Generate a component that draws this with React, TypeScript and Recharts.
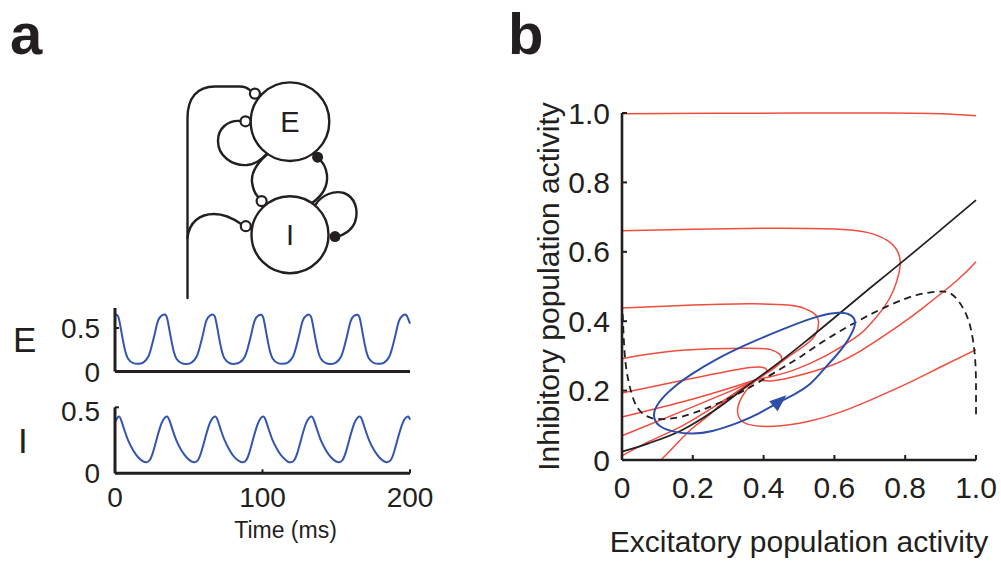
import React from 'react';
import { LineChart, Line, XAxis, YAxis, ReferenceDot, Label } from 'recharts';

const FONT = '"Liberation Sans", Arial, Helvetica, sans-serif';
const INK = '#231f20';
const RED = '#f04c3e';
const BLUE = '#2d4fa9';
const TRACE_BLUE = '#3355b0';

// ---------- Panel a: time courses ----------
const eTime = [
  0, 1.0, 2.5, 4.4, 6.6, 8.9, 12.3, 15.7, 19.1, 22.5, 24.7, 27.0, 29.2, 31.8,
  33.8, 35.3, 37.2, 39.4, 41.7, 45.1, 48.5, 51.9, 55.3, 57.5, 59.8, 62.0, 64.6,
  66.5, 68.0, 69.9, 72.1, 74.4, 77.8, 81.2, 84.6, 88.0, 90.2, 92.5, 94.7, 97.3,
  99.1, 100.6, 102.5, 104.7, 107.0, 110.4, 113.8, 117.2, 120.6, 122.8, 125.1, 127.3, 129.9,
  131.7, 133.2, 135.1, 137.3, 139.6, 143.0, 146.4, 149.8, 153.2, 155.4, 157.7, 159.9, 162.5,
  164.4, 165.9, 167.8, 170.0, 172.3, 175.7, 179.1, 182.5, 185.9, 188.1, 190.4, 192.6, 195.2,
  197.1, 198.6, 200,
];
const eValue = [
  0.64, 0.653, 0.615, 0.45, 0.26, 0.148, 0.097, 0.089, 0.104, 0.17, 0.283, 0.438, 0.585, 0.645,
  0.655, 0.615, 0.45, 0.262, 0.148, 0.097, 0.088, 0.104, 0.17, 0.283, 0.439, 0.587, 0.646,
  0.654, 0.616, 0.451, 0.26, 0.147, 0.096, 0.089, 0.105, 0.171, 0.282, 0.438, 0.585, 0.645,
  0.653, 0.615, 0.45, 0.26, 0.148, 0.097, 0.089, 0.104, 0.17, 0.283, 0.438, 0.586, 0.646,
  0.654, 0.615, 0.45, 0.261, 0.148, 0.097, 0.088, 0.104, 0.171, 0.283, 0.438, 0.585, 0.645,
  0.653, 0.615, 0.451, 0.26, 0.147, 0.097, 0.089, 0.104, 0.17, 0.282, 0.439, 0.586, 0.646,
  0.654, 0.615, 0.55,
];
const iTime = [
  0, 2.6, 4.4, 6.6, 8.9, 12.3, 15.7, 19.1, 21.3, 23.6, 25.9, 28.1, 30.4, 32.7,
  35.3, 37.1, 39.3, 41.6, 45.0, 48.4, 51.8, 54.0, 56.3, 58.6, 60.8, 63.1, 65.4,
  68.0, 69.8, 72.0, 74.3, 77.7, 81.1, 84.5, 86.7, 89.0, 91.3, 93.5, 95.8, 98.1,
  100.6, 102.4, 104.6, 106.9, 110.3, 113.7, 117.1, 119.3, 121.6, 123.9, 126.1, 128.4, 130.7,
  133.3, 135.1, 137.3, 139.6, 143.0, 146.4, 149.8, 152.0, 154.3, 156.6, 158.8, 161.1, 163.4,
  166.0, 167.8, 170.0, 172.3, 175.7, 179.1, 182.5, 184.7, 187.0, 189.3, 191.5, 193.8, 196.1,
  198.7, 200,
];
const iValue = [
  0.39, 0.43, 0.395, 0.32, 0.25, 0.175, 0.122, 0.09, 0.084, 0.101, 0.164, 0.253, 0.342, 0.405,
  0.431, 0.395, 0.321, 0.25, 0.174, 0.122, 0.09, 0.084, 0.101, 0.165, 0.253, 0.342, 0.405,
  0.43, 0.396, 0.32, 0.251, 0.175, 0.121, 0.09, 0.084, 0.1, 0.164, 0.254, 0.342, 0.406,
  0.43, 0.395, 0.32, 0.25, 0.175, 0.122, 0.089, 0.084, 0.101, 0.164, 0.253, 0.343, 0.405,
  0.431, 0.395, 0.321, 0.25, 0.175, 0.122, 0.09, 0.084, 0.101, 0.164, 0.253, 0.342, 0.405,
  0.43, 0.395, 0.32, 0.25, 0.174, 0.122, 0.09, 0.085, 0.101, 0.165, 0.254, 0.342, 0.406,
  0.43, 0.405,
];
const activityTicks = [0, 0.5];
const timeTicks = [0, 100, 200];

// ---------- Panel b: phase plane ----------
const phaseTicks = [0, 0.2, 0.4, 0.6, 0.8, 1.0];

const trajTop = [[0, 0.998], [0.25, 0.999], [0.5, 1.0], [0.75, 1.0], [0.9, 0.998], [1.0, 0.992]];
const trajHigh = [
  [0, 0.661], [0.2, 0.665], [0.409, 0.668], [0.598, 0.666], [0.692, 0.656], [0.749, 0.633],
  [0.777, 0.604], [0.786, 0.572], [0.782, 0.537], [0.767, 0.489], [0.74, 0.44], [0.7, 0.39],
  [0.664, 0.356], [0.579, 0.302], [0.485, 0.259], [0.419, 0.24], [0.38, 0.232],
];
const trajA = [
  [0, 0.438], [0.169, 0.445], [0.357, 0.45], [0.475, 0.446], [0.515, 0.437], [0.543, 0.422],
  [0.555, 0.398], [0.547, 0.362], [0.52, 0.333], [0.485, 0.308], [0.428, 0.266], [0.38, 0.232],
];
const trajB = [
  [0, 0.292], [0.169, 0.316], [0.357, 0.322], [0.42, 0.318], [0.445, 0.305], [0.45, 0.287],
  [0.428, 0.263], [0.38, 0.232],
];
const trajC = [[0, 0.193], [0.169, 0.229], [0.31, 0.258], [0.386, 0.268], [0.409, 0.258], [0.398, 0.243], [0.38, 0.232]];
const trajD = [[0, 0.124], [0.169, 0.167], [0.31, 0.209], [0.38, 0.232]];
const trajE = [[0, 0.07], [0.169, 0.14], [0.31, 0.2], [0.38, 0.232]];
const trajF = [[0, 0.012], [0.08, 0.055], [0.173, 0.1], [0.27, 0.16], [0.38, 0.232]];
const trajG = [[0.11, 0], [0.15, 0.042], [0.197, 0.09], [0.244, 0.128], [0.31, 0.186], [0.38, 0.232]];
const trajH = [
  [1.0, 0.318], [0.9, 0.268], [0.805, 0.22], [0.711, 0.177], [0.617, 0.138], [0.522, 0.11],
  [0.428, 0.097], [0.36, 0.102], [0.332, 0.12], [0.327, 0.15], [0.342, 0.187], [0.362, 0.213], [0.38, 0.232],
];
const trajI = [
  [1.0, 0.571], [0.947, 0.518], [0.852, 0.44], [0.786, 0.39], [0.673, 0.314], [0.579, 0.268],
  [0.485, 0.24], [0.419, 0.228], [0.38, 0.232],
];
const redTrajectories = [trajTop, trajHigh, trajA, trajB, trajC, trajD, trajE, trajF, trajG, trajH, trajI];

const solidNullcline = [
  [0, 0.024], [0.075, 0.048], [0.169, 0.086], [0.263, 0.144], [0.357, 0.216], [0.452, 0.288],
  [0.518, 0.341], [0.6, 0.41], [0.7, 0.495], [0.8, 0.578], [0.9, 0.663], [1.0, 0.749],
];
const dashedNullcline = [
  [0.002, 0.42], [0.005, 0.35], [0.01, 0.28], [0.02, 0.22], [0.035, 0.168], [0.056, 0.136],
  [0.084, 0.121], [0.122, 0.118], [0.169, 0.125], [0.225, 0.144], [0.282, 0.168], [0.339, 0.197],
  [0.386, 0.224], [0.452, 0.265], [0.508, 0.3], [0.569, 0.342], [0.664, 0.399], [0.758, 0.447],
  [0.834, 0.476], [0.89, 0.485], [0.928, 0.48], [0.961, 0.442], [0.984, 0.384], [0.997, 0.298],
  [1.0, 0.211], [1.0, 0.12],
];
const limitCycle = [
  [0.445, 0.168], [0.49, 0.19], [0.53, 0.215], [0.56, 0.25], [0.6, 0.295], [0.63, 0.33],
  [0.652, 0.37], [0.662, 0.397], [0.65, 0.419], [0.617, 0.428], [0.55, 0.415], [0.456, 0.378],
  [0.357, 0.336], [0.263, 0.29], [0.2, 0.25], [0.145, 0.211], [0.1, 0.165], [0.085, 0.128],
  [0.102, 0.095], [0.15, 0.079], [0.2, 0.075], [0.25, 0.08], [0.332, 0.108], [0.39, 0.135],
];
const cycleArrow = { x: 0.445, y: 0.17, angle: -40 };

const toXY = (pts: number[][]) => pts.map(([x, y]) => ({ x, y }));
const eData = eTime.map((t, k) => ({ t, v: eValue[k] }));
const iData = iTime.map((t, k) => ({ t, v: iValue[k] }));
const fmt = (v: number) => (v === 0 ? '0' : v.toFixed(1));

const ArrowHead = (props: any) => {
  const { cx, cy } = props;
  if (cx == null || cy == null) return null;
  return (
    <polygon
      points="9,0 -8,-6.5 -8,6.5"
      transform={`translate(${cx},${cy}) rotate(${cycleArrow.angle})`}
      fill={BLUE}
    />
  );
};

const Diagram = () => (
  <svg width={1001} height={569} style={{ position: 'absolute', left: 0, top: 0, pointerEvents: 'none' }}>
    <text x={10} y={54} fontFamily={FONT} fontWeight="bold" fontSize={58} fill={INK}>a</text>
    <text x={508} y={54} fontFamily={FONT} fontWeight="bold" fontSize={58} fill={INK}>b</text>
    <g fill="none" stroke={INK} strokeWidth={2.4} strokeLinecap="round">
      <path d="M187.5,298 L187.5,118 C187.5,98 197,86.5 215,86.5 L240,86.5 C244,86.5 247,87.5 250,90.2" />
      <path d="M187.5,238 C189,222 200,214 214,214 C226,214 234,219 241,224" />
      <path d="M240.5,121 C228,120 218,128 218,141 C218,156 232,166 247,165 C256,164 262,159 266.5,154" />
      <path d="M267.5,154 C257,163 251,172 252,182 C253,190 255,194 258.4,197.3" />
      <path d="M312,203 C322,196 328,186 327,175 C326,167 322,161 318,158" />
      <path d="M316,204 C322,195 334,190 344,193 C355,197 359,210 355,222 C352,230 344,235 337,236.5" />
      <circle cx={290} cy={121.7} r={39.3} />
      <circle cx={290} cy={234.7} r={38.5} />
    </g>
    <g fill="#fff" stroke={INK} strokeWidth={2.2}>
      <circle cx={254.9} cy={93.6} r={5} />
      <circle cx={245.5} cy={121.3} r={5} />
      <circle cx={245.8} cy={226.2} r={5} />
      <circle cx={261.6} cy={201.1} r={5} />
    </g>
    <g fill={INK}>
      <circle cx={317.6} cy={157.2} r={5.5} />
      <circle cx={335} cy={236.6} r={5.5} />
    </g>
    <text x={290} y={132} textAnchor="middle" fontFamily={FONT} fontSize={29} fill={INK}>E</text>
    <text x={290} y={245} textAnchor="middle" fontFamily={FONT} fontSize={29} fill={INK}>I</text>
  </svg>
);

const tickA = { fontSize: 28, fill: INK, fontFamily: FONT };
const tickB = { fontSize: 30, fill: INK, fontFamily: FONT };

export default function App() {
  return (
    <div style={{ position: 'absolute', left: 0, top: 0, width: 1001, height: 569, background: '#fff', overflow: 'hidden', fontFamily: FONT }}>
      {/* E time course */}
      <div style={{ position: 'absolute', left: 0, top: 290 }}>
        <LineChart width={450} height={101} data={eData} margin={{ top: 18, right: 40, bottom: 0, left: 0 }}>
          <XAxis dataKey="t" type="number" domain={[0, 200]} ticks={timeTicks} tick={false} tickLine={false}
            height={19.4} axisLine={{ stroke: INK, strokeWidth: 3 }} />
          <YAxis type="number" domain={[0, 0.73]} ticks={activityTicks} width={115} tick={tickA}
            tickSize={-4} tickMargin={19} tickFormatter={(v: number) => (v === 0 ? '0' : String(v))}
            axisLine={{ stroke: INK, strokeWidth: 3 }} tickLine={{ stroke: INK, strokeWidth: 2 }}>
            <Label value="E" position="insideLeft" offset={13} fontSize={35} fill={INK} fontFamily={FONT} />
          </YAxis>
          <Line dataKey="v" type="natural" stroke={TRACE_BLUE} strokeWidth={2} dot={false} isAnimationActive={false} />
        </LineChart>
      </div>
      {/* I time course */}
      <div style={{ position: 'absolute', left: 0, top: 395 }}>
        <LineChart width={450} height={174} data={iData} margin={{ top: 12.3, right: 40, bottom: 0, left: 0 }}>
          <XAxis dataKey="t" type="number" domain={[0, 200]} ticks={timeTicks} tick={tickA}
            tickSize={-4} tickMargin={18} height={95.7}
            axisLine={{ stroke: INK, strokeWidth: 3 }} tickLine={{ stroke: INK, strokeWidth: 2 }}>
            <Label value="Time (ms)" position="insideBottom" offset={31} dx={23} fontSize={23} fill={INK} fontFamily={FONT} />
          </XAxis>
          <YAxis type="number" domain={[0, 0.5]} ticks={activityTicks} width={115} tick={tickA}
            tickSize={-4} tickMargin={19} tickFormatter={(v: number) => (v === 0 ? '0' : String(v))}
            axisLine={{ stroke: INK, strokeWidth: 3 }} tickLine={{ stroke: INK, strokeWidth: 2 }}>
            <Label value="I" position="insideLeft" offset={18} fontSize={35} fill={INK} fontFamily={FONT} />
          </YAxis>
          <Line dataKey="v" type="natural" stroke={TRACE_BLUE} strokeWidth={2} dot={false} isAnimationActive={false} />
        </LineChart>
      </div>
      {/* Phase plane */}
      <div style={{ position: 'absolute', left: 474, top: 80 }}>
        <LineChart width={527} height={489} margin={{ top: 33, right: 25, bottom: 0, left: 0 }}>
          <XAxis dataKey="x" type="number" domain={[0, 1]} ticks={phaseTicks} tickFormatter={fmt} tick={tickB}
            tickSize={-5} tickMargin={22} height={109}
            axisLine={{ stroke: INK, strokeWidth: 2.6 }} tickLine={{ stroke: INK, strokeWidth: 2 }}>
            <Label value="Excitatory population activity" position="insideBottom" offset={17} fontSize={30} fill={INK} fontFamily={FONT} />
          </XAxis>
          <YAxis dataKey="y" type="number" domain={[0, 1]} ticks={phaseTicks} tickFormatter={fmt} tick={tickB}
            tickSize={-5} tickMargin={17} width={148}
            axisLine={{ stroke: INK, strokeWidth: 2.6 }} tickLine={{ stroke: INK, strokeWidth: 2 }}>
            <Label value="Inhibitory population activity" position="center" angle={-90} fontSize={30} fill={INK} fontFamily={FONT} />
          </YAxis>
          {redTrajectories.map((tr, k) => (
            <Line key={`r${k}`} data={toXY(tr)} dataKey="y" type="natural" stroke={RED} strokeWidth={1.5}
              dot={false} isAnimationActive={false} />
          ))}
          <Line data={toXY(solidNullcline)} dataKey="y" type="monotone" stroke={INK} strokeWidth={1.7}
            dot={false} isAnimationActive={false} />
          <Line data={toXY(dashedNullcline)} dataKey="y" type="natural" stroke={INK} strokeWidth={1.8}
            strokeDasharray="7 5" dot={false} isAnimationActive={false} />
          <Line data={toXY(limitCycle)} dataKey="y" type="basisClosed" stroke={BLUE} strokeWidth={2}
            dot={false} isAnimationActive={false} />
          <ReferenceDot x={cycleArrow.x} y={cycleArrow.y} r={0} shape={ArrowHead} />
        </LineChart>
      </div>
      <Diagram />
    </div>
  );
}
